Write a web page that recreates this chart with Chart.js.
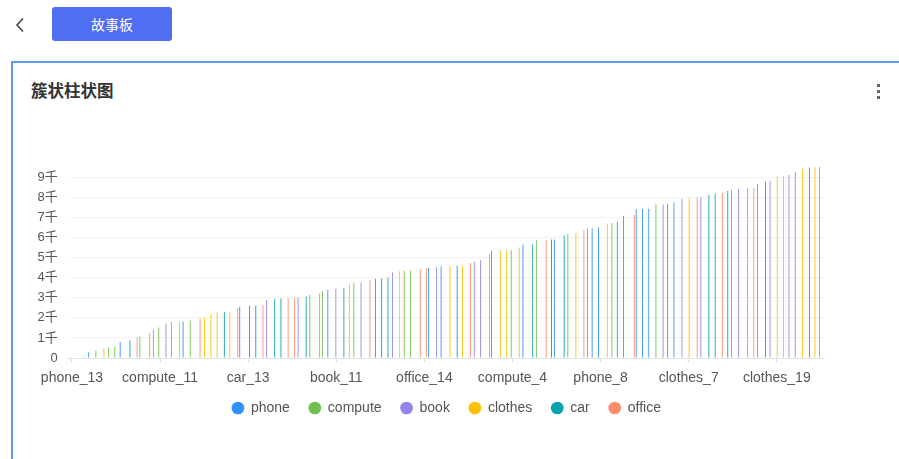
<!DOCTYPE html>
<html>
<head>
<meta charset="utf-8">
<script src="https://cdn.jsdelivr.net/npm/chart.js@4.4.1/dist/chart.umd.min.js"></script>
<style>
  body { margin: 0; width: 899px; height: 459px; background: #fff; overflow: hidden; position: relative;
         font-family: "Liberation Sans", Arial, "Noto Sans CJK SC", sans-serif; }
  .back { position: absolute; left: 14px; top: 17px; }
  .btn { position: absolute; left: 52px; top: 7px; width: 120px; height: 34px; background: #4f6ef2;
         border-radius: 3px; color: #fff; font-size: 14px; line-height: 34px; text-align: center;
         font-family: "Noto Sans CJK SC", sans-serif; }
  .card { position: absolute; left: 11px; top: 61px; width: 900px; height: 420px;
          border-left: 2px solid #5c9cf0; border-top: 2px solid #5c9cf0; }
  .title { position: absolute; left: 31px; top: 78px; font-size: 16.5px; font-weight: bold; color: #333;
           font-family: "Noto Sans CJK SC", sans-serif; }
  .more { position: absolute; left: 877px; top: 84px; }
  .more i { display: block; width: 2.5px; height: 2.5px; background: #666; margin-bottom: 3.5px; }
  #wrap { position: absolute; left: 0; top: 110px; }
</style>
</head>
<body>
<svg class="back" width="12" height="16"><polyline points="9,1.5 3,8 9,14.5" fill="none" stroke="#444" stroke-width="1.6"/></svg>
<div class="btn">故事板</div>
<div class="card"></div>
<div class="title">簇状柱状图</div>
<div class="more"><i></i><i></i><i></i></div>
<div id="wrap"><canvas id="chart" width="899" height="315"></canvas></div>
<script>
const series = ["phone", "compute", "book", "clothes", "car", "office"];
const colors = ["#3291f8", "#71c04d", "#9585ea", "#fec003", "#07a2b0", "#fe8d6c"];

const categories = [
  "phone_13", "compute_16", "book_6", "phone_5", "compute_7", "clothes_12", "compute_2", "compute_19", "phone_17", "car_4",
  "office_9", "compute_13", "office_2", "book_14", "compute_11", "book_3", "compute_5", "clothes_3", "phone_2", "compute_20",
  "office_17", "clothes_15", "clothes_1", "clothes_10", "car_17", "clothes_18", "office_5", "phone_10", "car_13", "car_8",
  "office_12", "book_18", "car_1", "car_19", "office_1", "office_20", "book_9", "car_6", "compute_1", "office_7",
  "compute_9", "phone_19", "book_11", "car_11", "clothes_5", "compute_14", "book_1", "office_15", "car_2", "car_15",
  "car_9", "book_20", "clothes_14", "compute_3", "compute_17", "office_3", "office_14", "phone_1", "book_7", "phone_15",
  "clothes_8", "car_20", "clothes_2", "office_10", "book_15", "book_2", "office_18", "phone_6", "clothes_16", "clothes_11",
  "compute_4", "clothes_4", "phone_20", "car_5", "compute_10", "office_6", "car_14", "phone_3", "car_3", "compute_6",
  "clothes_20", "office_11", "book_12", "phone_11", "phone_8", "clothes_9", "compute_18", "phone_14", "phone_4", "office_4",
  "phone_9", "phone_16", "phone_12", "compute_12", "book_5", "phone_7", "phone_18", "book_17", "clothes_7", "office_19",
  "book_8", "car_18", "car_10", "office_8", "car_7", "compute_8", "book_19", "office_16", "office_13", "book_4",
  "car_16", "book_13", "clothes_19", "clothes_6", "book_10", "book_16", "clothes_13", "car_12", "clothes_17", "compute_15"
];

const values = [
  10, 30, 60, 290, 365, 480, 530, 565, 795, 880,
  1010, 1060, 1260, 1410, 1525, 1725, 1790, 1790, 1825, 1875,
  1975, 2005, 2190, 2280, 2290, 2320, 2490, 2555, 2605, 2605,
  2640, 2885, 2935, 2970, 2985, 3000, 3020, 3070, 3135, 3215,
  3335, 3400, 3450, 3500, 3715, 3765, 3780, 3880, 3945, 3965,
  4000, 4260, 4330, 4345, 4360, 4395, 4475, 4480, 4525, 4575,
  4580, 4595, 4600, 4725, 4795, 4875, 5175, 5340, 5345, 5355,
  5375, 5505, 5655, 5670, 5870, 5875, 5905, 5910, 6120, 6185,
  6220, 6385, 6450, 6470, 6515, 6700, 6715, 6785, 7080, 7130,
  7430, 7430, 7445, 7645, 7650, 7675, 7745, 7925, 7960, 8010,
  8025, 8125, 8190, 8225, 8325, 8360, 8425, 8460, 8490, 8690,
  8790, 8840, 9055, 9060, 9120, 9270, 9435, 9500, 9505, 9520
];

const yTicks = [0, 1000, 2000, 3000, 4000, 5000, 6000, 7000, 8000, 9000];
const labelEvery = 14;

Chart.defaults.font.family = '"Liberation Sans", Arial, "Noto Sans CJK SC", sans-serif';
Chart.defaults.color = "#595959";

const datasets = series.map((s, k) => ({
  label: s,
  data: categories.map((c, i) => c.split("_")[0] === s ? values[i] : null),
  backgroundColor: colors[k],
  borderWidth: 0,
  categoryPercentage: 0.83,
  barPercentage: 1
}));

new Chart(document.getElementById("chart"), {
  type: "bar",
  data: { labels: categories, datasets: datasets },
  options: {
    responsive: false,
    animation: false,
    layout: { padding: { top: 57, left: 0, right: 75, bottom: 0 } },
    plugins: {
      tooltip: { enabled: false },
      legend: {
        position: "bottom",
        fullSize: false,
        labels: {
          usePointStyle: true,
          pointStyle: "circle",
          boxWidth: 12,
          boxHeight: 9,
          padding: 19,
          color: "#555",
          font: { size: 14 }
        }
      }
    },
    scales: {
      x: {
        afterFit: (scale) => {
          scale.height = 24;
          scale._computeLabelArea = () => undefined; // don't clip the labels to the axis box
        },
        grid: {
          offset: false,
          drawOnChartArea: false,
          tickLength: 4,
          color: (ctx) => ctx.index % labelEvery === 0 ? "#dcdfe6" : "rgba(0,0,0,0)"
        },
        border: { color: "#e2e5ea" },
        ticks: {
          autoSkip: false,
          maxRotation: 0,
          padding: 8,
          color: "#555",
          font: { size: 14 },
          callback: (v, i) => i % labelEvery === 0 ? categories[i] : ""
        }
      },
      y: {
        min: 0,
        max: Math.max(...values),
        afterFit: (scale) => { scale.width = 68.85; },
        afterBuildTicks: (scale) => { scale.ticks = yTicks.map(v => ({ value: v })); },
        grid: { color: "#f2f2f2", drawTicks: false },
        border: { display: false },
        ticks: {
          padding: 11,
          color: "#555",
          font: { size: 13 },
          callback: (v) => v === 0 ? "0" : (v / 1000) + "千"
        }
      }
    }
  }
});
</script>
</body>
</html>
